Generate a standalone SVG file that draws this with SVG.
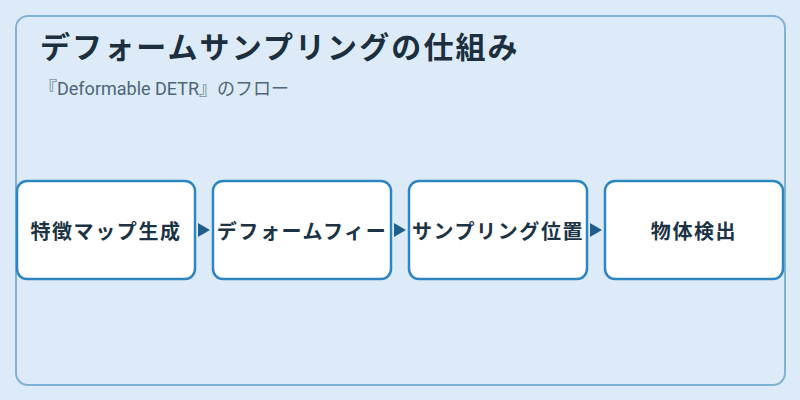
<svg xmlns="http://www.w3.org/2000/svg" width="800" height="400" viewBox="0 0 800 400">
<style>
.node rect{fill:#ffffff;stroke:#2e86c1;stroke-width:2.5}
.node text{font-family:"Noto Sans CJK JP","Noto Sans",sans-serif;font-size:20px;font-weight:bold;fill:#1b3344;letter-spacing:1.6px;text-anchor:middle;dominant-baseline:central}
.title{font-family:"Noto Sans CJK JP","Noto Sans",sans-serif;font-size:30px;font-weight:bold;fill:#1b2f3f;letter-spacing:2.1px}
.sub{font-family:Roboto,"Noto Sans CJK JP",sans-serif;font-size:18px;fill:#4d6679}
.arrow{fill:#1f5f8b}
</style>
<rect x="0" y="0" width="800" height="400" fill="#dcebf7"/>
<rect x="16" y="16" width="769" height="369" rx="12" fill="#dcebf7" stroke="#7fb3d5" stroke-width="2"/>
<text class="title" x="40" y="58">デフォームサンプリングの仕組み</text>
<text class="sub" x="39" y="95">『Deformable DETR』のフロー</text>
<g id="connectors">
<polygon class="arrow" points="198,223 210,230 198,237"/>
<polygon class="arrow" points="394,223 406,230 394,237"/>
<polygon class="arrow" points="590,223 602,230 590,237"/>
</g>
<g id="node1" class="node"><rect x="17" y="181" width="178" height="98" rx="10"/><text x="106" y="230">特徴マップ生成</text></g>
<g id="node2" class="node"><rect x="213" y="181" width="178" height="98" rx="10"/><text x="302" y="230">デフォームフィー</text></g>
<g id="node3" class="node"><rect x="409" y="181" width="178" height="98" rx="10"/><text x="498" y="230">サンプリング位置</text></g>
<g id="node4" class="node"><rect x="605" y="181" width="178" height="98" rx="10"/><text x="694" y="230">物体検出</text></g>
</svg>
